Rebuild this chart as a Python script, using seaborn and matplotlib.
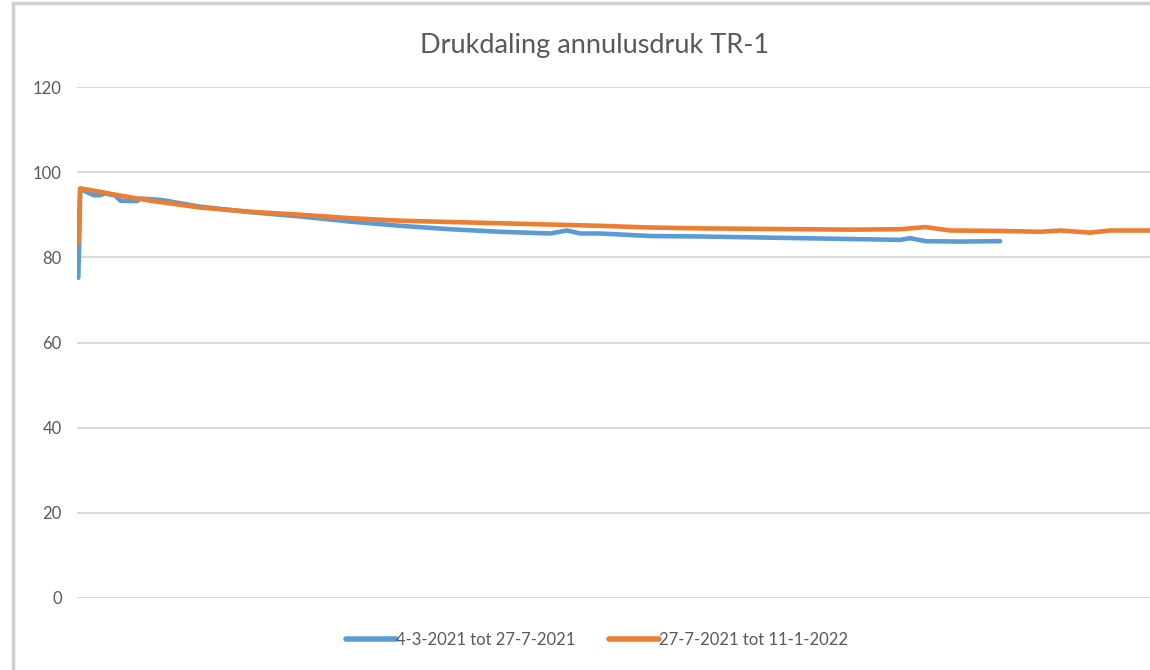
import matplotlib
matplotlib.use("Agg")
import matplotlib.pyplot as plt
import seaborn as sns
import pandas as pd
from matplotlib.patches import Rectangle

# Data (x = days since start of each period, y = annulus pressure)
blue_label = "4-3-2021 tot 27-7-2021"
blue_days = [0, 0.15, 0.3, 1.1, 2.4, 3.4, 4.2, 5.8, 6.6, 9.2, 9.7, 12.9, 19.1, 27, 34.8,
             42.6, 50.5, 58.3, 66.1, 74, 76.6, 78.7, 81.8, 89.7, 97.5, 105.3, 113.2,
             121, 128.8, 130.4, 132.8, 138.2, 144.5]
blue_vals = [75.2, 84, 96, 95.5, 94.6, 94.6, 95, 94.5, 93.3, 93.2, 93.8, 93.5, 91.9, 90.6, 89.6,
             88.4, 87.4, 86.6, 86.0, 85.6, 86.3, 85.6, 85.6, 85.0, 84.9, 84.7, 84.5,
             84.3, 84.1, 84.5, 83.8, 83.7, 83.8]

orange_label = "27-7-2021 tot 11-1-2022"
orange_days = [0, 0.3, 1.9, 6.6, 11.3, 19.1, 27, 34.8, 42.6, 50.5, 58.3, 66.1, 74, 81.8,
               89.7, 97.5, 105.3, 113.2, 121, 128.8, 132.8, 136.7, 144.5, 150.8, 154,
               158.6, 161.8, 168]
orange_vals = [83.4, 96.2, 95.8, 94.5, 93.3, 91.7, 90.7, 90.0, 89.2, 88.6, 88.3, 88.0, 87.7, 87.4,
               87.0, 86.8, 86.7, 86.6, 86.5, 86.6, 87.1, 86.3, 86.2, 86.0, 86.3,
               85.8, 86.3, 86.3]

title = "Drukdaling annulusdruk TR-1"
y_ticks = [0, 20, 40, 60, 80, 100, 120]

df = pd.concat([
    pd.DataFrame({"dag": blue_days, "druk": blue_vals, "periode": blue_label}),
    pd.DataFrame({"dag": orange_days, "druk": orange_vals, "periode": orange_label}),
])

sns.set_style("white")
plt.rcParams["font.family"] = ["Lato", "DejaVu Sans"]

fig = plt.figure(figsize=(11.5, 6.7), dpi=100)
ax = fig.add_axes([77 / 1150, 1 - 598 / 670, 1 - 77 / 1150, (598 - 87) / 670])

sns.lineplot(data=df, x="dag", y="druk", hue="periode",
             palette={blue_label: "#5B9BD5", orange_label: "#ED7D31"},
             linewidth=3.3, ax=ax, legend=True, sort=False)

ax.set_ylim(0, 120)
ax.set_xlim(-0.2, 168)
ax.set_yticks(y_ticks)
ax.set_yticklabels([str(t) for t in y_ticks])
ax.set_xticks([])
ax.set_xlabel("")
ax.set_ylabel("")
ax.yaxis.grid(True, color="#D9D9D9", linewidth=1.4)
ax.set_axisbelow(True)
for s in ax.spines.values():
    s.set_visible(False)
ax.tick_params(axis="y", length=0, pad=11, labelsize=12, labelcolor="#595959")

handles, labels = ax.get_legend_handles_labels()
ax.legend_.remove()
for h in handles:
    h.set_linewidth(4)
fig.legend(handles, labels, loc="center", bbox_to_anchor=(597 / 1150, 1 - 640 / 670),
           ncol=2, frameon=False, fontsize=12, labelcolor="#595959",
           handlelength=3.0, handletextpad=0.0, columnspacing=2.0)

fig.text(595 / 1150, 1 - 45 / 670, title, ha="center", va="center",
         fontsize=19.5, color="#595959")

# chart frame
fig.patches.append(Rectangle((13 / 1150, -0.1), 1.2, 1 - 3 / 670 + 0.1,
                             transform=fig.transFigure, fill=False,
                             edgecolor="#D0D0D0", linewidth=2.5))

fig.savefig("out.png", dpi=100, facecolor="white")
